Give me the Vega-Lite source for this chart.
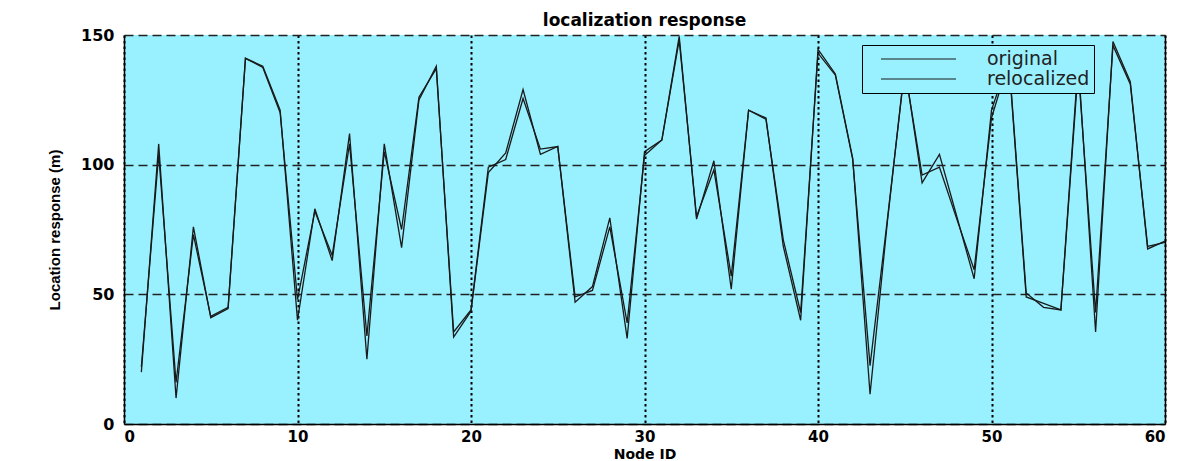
{
  "$schema": "https://vega.github.io/schema/vega-lite/v6.json",
  "autosize": {"type": "none"},
  "padding": {"left": 124, "top": 35, "right": 18, "bottom": 37},
  "width": 1041,
  "height": 389,
  "background": "#ffffff",
  "config": {
    "view": {"fill": "#99f1ff", "stroke": null},
    "font": "DejaVu Sans"
  },
  "title": {
    "text": "localization response",
    "fontSize": 17,
    "fontWeight": "bold",
    "font": "DejaVu Sans",
    "color": "#000000",
    "offset": -3,
    "anchor": "middle"
  },
  "data": {
    "values": [
      {"id": 1, "series": "original", "value": 20}, {"id": 1, "series": "relocalized", "value": 22},
      {"id": 2, "series": "original", "value": 108}, {"id": 2, "series": "relocalized", "value": 104},
      {"id": 3, "series": "original", "value": 10}, {"id": 3, "series": "relocalized", "value": 16},
      {"id": 4, "series": "original", "value": 76}, {"id": 4, "series": "relocalized", "value": 73},
      {"id": 5, "series": "original", "value": 41}, {"id": 5, "series": "relocalized", "value": 41.5},
      {"id": 6, "series": "original", "value": 44.5}, {"id": 6, "series": "relocalized", "value": 45},
      {"id": 7, "series": "original", "value": 141}, {"id": 7, "series": "relocalized", "value": 141},
      {"id": 8, "series": "original", "value": 138}, {"id": 8, "series": "relocalized", "value": 137.5},
      {"id": 9, "series": "original", "value": 121}, {"id": 9, "series": "relocalized", "value": 120},
      {"id": 10, "series": "original", "value": 40}, {"id": 10, "series": "relocalized", "value": 48},
      {"id": 11, "series": "original", "value": 83}, {"id": 11, "series": "relocalized", "value": 82},
      {"id": 12, "series": "original", "value": 63}, {"id": 12, "series": "relocalized", "value": 65},
      {"id": 13, "series": "original", "value": 112}, {"id": 13, "series": "relocalized", "value": 108},
      {"id": 14, "series": "original", "value": 25}, {"id": 14, "series": "relocalized", "value": 34},
      {"id": 15, "series": "original", "value": 108}, {"id": 15, "series": "relocalized", "value": 105},
      {"id": 16, "series": "original", "value": 68}, {"id": 16, "series": "relocalized", "value": 75},
      {"id": 17, "series": "original", "value": 125}, {"id": 17, "series": "relocalized", "value": 126},
      {"id": 18, "series": "original", "value": 138}, {"id": 18, "series": "relocalized", "value": 137},
      {"id": 19, "series": "original", "value": 33.5}, {"id": 19, "series": "relocalized", "value": 35.5},
      {"id": 20, "series": "original", "value": 43.5}, {"id": 20, "series": "relocalized", "value": 44},
      {"id": 21, "series": "original", "value": 97}, {"id": 21, "series": "relocalized", "value": 99},
      {"id": 22, "series": "original", "value": 104.5}, {"id": 22, "series": "relocalized", "value": 102},
      {"id": 23, "series": "original", "value": 129}, {"id": 23, "series": "relocalized", "value": 125.5},
      {"id": 24, "series": "original", "value": 104}, {"id": 24, "series": "relocalized", "value": 106},
      {"id": 25, "series": "original", "value": 107}, {"id": 25, "series": "relocalized", "value": 107},
      {"id": 26, "series": "original", "value": 47}, {"id": 26, "series": "relocalized", "value": 49},
      {"id": 27, "series": "original", "value": 53}, {"id": 27, "series": "relocalized", "value": 51.5},
      {"id": 28, "series": "original", "value": 79.5}, {"id": 28, "series": "relocalized", "value": 76},
      {"id": 29, "series": "original", "value": 33}, {"id": 29, "series": "relocalized", "value": 39},
      {"id": 30, "series": "original", "value": 105}, {"id": 30, "series": "relocalized", "value": 103.5},
      {"id": 31, "series": "original", "value": 109.5}, {"id": 31, "series": "relocalized", "value": 109.5},
      {"id": 32, "series": "original", "value": 149.5}, {"id": 32, "series": "relocalized", "value": 148},
      {"id": 33, "series": "original", "value": 79}, {"id": 33, "series": "relocalized", "value": 80},
      {"id": 34, "series": "original", "value": 101.5}, {"id": 34, "series": "relocalized", "value": 98},
      {"id": 35, "series": "original", "value": 52}, {"id": 35, "series": "relocalized", "value": 57},
      {"id": 36, "series": "original", "value": 121}, {"id": 36, "series": "relocalized", "value": 121},
      {"id": 37, "series": "original", "value": 118}, {"id": 37, "series": "relocalized", "value": 117.5},
      {"id": 38, "series": "original", "value": 68.5}, {"id": 38, "series": "relocalized", "value": 71},
      {"id": 39, "series": "original", "value": 40}, {"id": 39, "series": "relocalized", "value": 43},
      {"id": 40, "series": "original", "value": 144.5}, {"id": 40, "series": "relocalized", "value": 143},
      {"id": 41, "series": "original", "value": 135}, {"id": 41, "series": "relocalized", "value": 134.5},
      {"id": 42, "series": "original", "value": 102.5}, {"id": 42, "series": "relocalized", "value": 102},
      {"id": 43, "series": "original", "value": 11.5}, {"id": 43, "series": "relocalized", "value": 22.5},
      {"id": 44, "series": "original", "value": 78}, {"id": 44, "series": "relocalized", "value": 79},
      {"id": 45, "series": "original", "value": 138}, {"id": 45, "series": "relocalized", "value": 137},
      {"id": 46, "series": "original", "value": 93}, {"id": 46, "series": "relocalized", "value": 96},
      {"id": 47, "series": "original", "value": 104}, {"id": 47, "series": "relocalized", "value": 99},
      {"id": 48, "series": "original", "value": 80}, {"id": 48, "series": "relocalized", "value": 79},
      {"id": 49, "series": "original", "value": 56}, {"id": 49, "series": "relocalized", "value": 59.5},
      {"id": 50, "series": "original", "value": 121}, {"id": 50, "series": "relocalized", "value": 118},
      {"id": 51, "series": "original", "value": 141}, {"id": 51, "series": "relocalized", "value": 140},
      {"id": 52, "series": "original", "value": 50.5}, {"id": 52, "series": "relocalized", "value": 49},
      {"id": 53, "series": "original", "value": 45}, {"id": 53, "series": "relocalized", "value": 46.5},
      {"id": 54, "series": "original", "value": 44}, {"id": 54, "series": "relocalized", "value": 44},
      {"id": 55, "series": "original", "value": 140}, {"id": 55, "series": "relocalized", "value": 137},
      {"id": 56, "series": "original", "value": 35.5}, {"id": 56, "series": "relocalized", "value": 43},
      {"id": 57, "series": "original", "value": 147.5}, {"id": 57, "series": "relocalized", "value": 146},
      {"id": 58, "series": "original", "value": 132}, {"id": 58, "series": "relocalized", "value": 131},
      {"id": 59, "series": "original", "value": 67.5}, {"id": 59, "series": "relocalized", "value": 68.5},
      {"id": 60, "series": "original", "value": 70.5}, {"id": 60, "series": "relocalized", "value": 70}
    ]
  },
  "layer": [
    {
      "mark": {"type": "line", "strokeWidth": 1.3},
      "encoding": {
        "x": {
          "field": "id", "type": "quantitative",
          "scale": {"domain": [0, 60], "nice": false},
          "axis": {
            "title": "Node ID",
            "values": [0, 10, 20, 30, 40, 50, 60],
            "format": "d",
            "grid": true, "gridColor": "#000000", "gridDash": [2.5, 3], "gridWidth": 2, "gridOpacity": 1,
            "ticks": false, "tickSize": 0,
            "domainColor": "#000000", "domainWidth": 1.5,
            "labelFont": "DejaVu Sans", "labelFontSize": 15, "labelFontWeight": "bold", "labelColor": "#000000",
            "labelPadding": 5,
            "titleFont": "DejaVu Sans", "titleFontSize": 14, "titleFontWeight": "bold", "titleColor": "#000000",
            "titlePadding": 3
          }
        },
        "y": {
          "field": "value", "type": "quantitative",
          "scale": {"domain": [0, 150], "nice": false},
          "axis": {
            "title": "Location response (m)",
            "values": [0, 50, 100, 150],
            "grid": true, "gridColor": "#222222", "gridDash": [9, 5], "gridWidth": 1.3, "gridOpacity": 1,
            "ticks": false, "tickSize": 0,
            "domainColor": "#000000", "domainWidth": 1.5,
            "labelFont": "DejaVu Sans", "labelFontSize": 16, "labelFontWeight": "bold", "labelColor": "#000000",
            "labelPadding": 10,
            "titleFont": "Liberation Sans", "titleFontSize": 15, "titleFontWeight": "bold", "titleColor": "#000000",
            "titlePadding": 18
          }
        },
        "color": {
          "field": "series", "type": "nominal",
          "scale": {"domain": ["original", "relocalized"], "range": ["#1a1a1a", "#1a1a1a"]},
          "legend": {
            "title": null,
            "orient": "none",
            "legendX": 738,
            "legendY": 10,
            "symbolType": "stroke",
            "symbolSize": 5625,
            "symbolStrokeWidth": 1.2,
            "symbolOffset": 14,
            "clipHeight": 20,
            "rowPadding": 0,
            "padding": 4,
            "labelOffset": 30,
            "labelFont": "DejaVu Sans",
            "labelFontSize": 19,
            "labelColor": "#222222",
            "strokeColor": "#000000",
            "fillColor": "#99f1ff"
          }
        }
      }
    },
    {
      "mark": {"type": "line", "opacity": 0},
      "encoding": {
        "x": {"field": "id", "type": "quantitative"},
        "y": {
          "field": "value", "type": "quantitative",
          "axis": {"orient": "right", "labels": false, "ticks": false, "grid": false, "title": null, "domain": true, "domainColor": "#000000", "domainWidth": 1.5}
        }
      }
    }
  ],
  "resolve": {"axis": {"y": "independent"}}
}
